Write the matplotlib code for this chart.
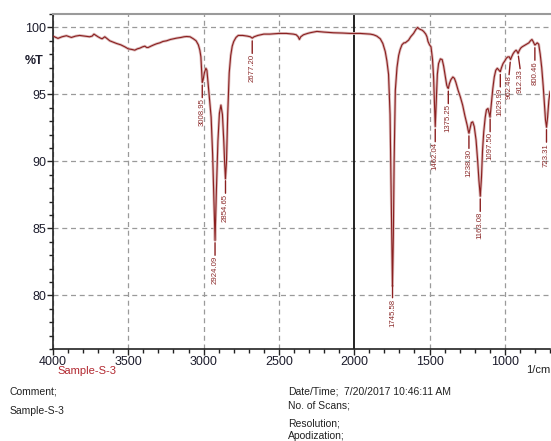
import matplotlib
matplotlib.use("Agg")
import matplotlib.pyplot as plt
import numpy as np
from matplotlib.ticker import MultipleLocator
from matplotlib import font_manager

plt.rcParams['font.family'] = ['Liberation Sans', 'DejaVu Sans']

# ---- spectrum data (wavenumber 1/cm, %T) ----
wavenumber = [4000, 3967, 3940, 3911, 3878, 3850, 3823, 3790, 3757, 3740, 3728, 3715, 3701, 3685,
              3674, 3656, 3640, 3623, 3600, 3578, 3550, 3523, 3500, 3475, 3457, 3440, 3424, 3405,
              3390, 3378, 3368, 3350, 3330, 3312, 3290, 3270, 3246, 3220, 3200, 3179, 3150, 3130,
              3113, 3090, 3068, 3050, 3035, 3025, 3018, 3013, 3009, 3003, 2995, 2985, 2978, 2970,
              2960, 2950, 2940, 2932, 2924, 2916, 2905, 2895, 2885, 2875, 2866, 2860, 2855, 2848,
              2840, 2830, 2820, 2810, 2800, 2785, 2770, 2740, 2710, 2690, 2677, 2665, 2640, 2600,
              2560, 2500, 2450, 2404, 2385, 2372, 2364, 2355, 2337, 2310, 2293, 2270, 2248, 2200,
              2138, 2080, 2027, 1960, 1894, 1872, 1850, 1827, 1810, 1794, 1783, 1772, 1762, 1755,
              1750, 1746, 1740, 1735, 1727, 1716, 1705, 1695, 1683, 1670, 1661, 1650, 1639, 1625,
              1606, 1590, 1579, 1570, 1561, 1550, 1539, 1525, 1517, 1510, 1500, 1490, 1480, 1473,
              1467, 1462, 1456, 1448, 1440, 1428, 1416, 1406, 1396, 1386, 1380, 1375, 1368, 1358,
              1345, 1335, 1325, 1310, 1295, 1280, 1265, 1250, 1243, 1238, 1232, 1222, 1213, 1203,
              1191, 1180, 1172, 1163, 1155, 1148, 1140, 1130, 1122, 1112, 1104, 1098, 1090, 1080,
              1070, 1060, 1050, 1042, 1035, 1030, 1022, 1012, 1000, 990, 980, 970, 962, 955,
              945, 935, 925, 918, 912, 905, 895, 885, 870, 855, 840, 830, 820, 812,
              806, 800, 794, 785, 775, 765, 755, 745, 737, 730, 723, 716, 708, 700]
transmittance = [99.35, 99.18, 99.3, 99.38, 99.25, 99.35, 99.4, 99.35, 99.3, 99.35, 99.5, 99.4, 99.3, 99.2,
                 99.15, 99.3, 99.15, 99.0, 98.9, 98.8, 98.7, 98.55, 98.4, 98.35, 98.3, 98.4, 98.45, 98.55,
                 98.6, 98.5, 98.5, 98.6, 98.7, 98.78, 98.85, 98.95, 99.0, 99.1, 99.15, 99.2, 99.25, 99.3,
                 99.32, 99.3, 99.15, 99.0, 98.7, 98.3, 97.8, 96.8, 95.9, 96.1, 96.6, 96.95, 96.8, 95.8,
                 94.6, 93.3, 90.5, 87.2, 84.1, 87.5, 91.5, 93.6, 94.2, 93.5, 91.5, 89.8, 88.7, 90.0,
                 93.5, 96.6, 97.9, 98.6, 98.95, 99.25, 99.4, 99.4, 99.35, 99.3, 99.2, 99.3, 99.4, 99.5,
                 99.5, 99.55, 99.55, 99.5, 99.45, 99.3, 99.1, 99.3, 99.45, 99.55, 99.6, 99.65, 99.7, 99.65,
                 99.6, 99.58, 99.55, 99.55, 99.5, 99.45, 99.35, 99.15, 98.8, 98.2, 97.5, 96.5, 93.5, 88.0,
                 83.5, 80.7, 84.5, 90.0, 95.3, 97.0, 97.9, 98.35, 98.7, 98.85, 98.85, 98.95, 99.05, 99.3,
                 99.55, 99.85, 100.0, 99.9, 99.85, 99.8, 99.7, 99.5, 99.3, 98.95, 98.7, 98.55, 97.6, 96.3,
                 94.2, 92.6, 94.3, 96.5, 97.3, 97.65, 97.6, 97.1, 96.4, 95.7, 95.5, 95.45, 95.8, 96.1,
                 96.3, 96.2, 95.9, 95.3, 94.8, 94.2, 93.4, 92.7, 92.3, 92.1, 92.4, 92.9, 92.95, 92.6,
                 91.6, 90.0, 88.6, 87.4, 88.8, 90.8, 92.2, 93.3, 93.85, 93.95, 93.6, 93.3, 94.2, 95.4,
                 96.3, 96.8, 96.95, 96.85, 96.75, 96.7, 97.0, 97.3, 97.5, 97.7, 97.8, 97.8, 97.6, 97.8,
                 98.04, 98.2, 98.3, 98.2, 98.05, 98.25, 98.45, 98.55, 98.65, 98.75, 98.85, 99.0, 99.1, 98.95,
                 98.8, 98.68, 98.75, 98.85, 98.75, 98.0, 97.0, 95.6, 94.2, 93.1, 92.55, 93.3, 94.5, 95.2]

peak_labels = ["3008.95", "2924.09", "2854.65", "2677.20", "1745.58", "1462.04", "1375.25",
               "1238.30", "1163.08", "1097.50", "1029.99", "962.48", "912.33", "800.46", "723.31"]

x_ticks = [4000, 3500, 3000, 2500, 2000, 1500, 1000]
y_ticks = [80, 85, 90, 95, 100]

W, H = 551, 441
fig = plt.figure(figsize=(W / 100, H / 100), dpi=100)
ax = fig.add_axes([53 / W, 1 - 349 / H, (550 - 53) / W, (349 - 14) / H])

wn = np.array(wavenumber, dtype=float)
tr = np.array(transmittance, dtype=float)

# grid
for xv in x_ticks:
    if xv == 2000:
        continue
    ax.axvline(xv, color='#9a9a9a', lw=0.9, ls=(0, (4, 3)), zorder=1)
for yv in y_ticks:
    ax.axhline(yv, color='#9a9a9a', lw=0.9, ls=(0, (4, 3)), zorder=1)
ax.axvline(2000, color='#111111', lw=1.3, zorder=1)

# spectrum (halo + core)
ax.plot(wn, tr, color='#dcbaba', lw=2.0, zorder=2, solid_joinstyle='round')
ax.plot(wn, tr, color='#8b2020', lw=0.8, zorder=3, solid_joinstyle='round')

# label font (narrow if available)
names = {f.name for f in font_manager.fontManager.ttflist}
label_family = ['Liberation Sans Narrow'] if 'Liberation Sans Narrow' in names else ['Liberation Sans']

# small horizontal nudges (points) for crowded labels
nudge = {"962.48": -1.0, "912.33": 1.5}

# peak labels
order = np.argsort(wn)
for lab in peak_labels:
    p = float(lab)
    tv = np.interp(p, wn[order], tr[order])
    dx = nudge.get(lab, 0.0)
    ax.annotate('', xy=(p, tv), xytext=(dx, -11), textcoords='offset points',
                arrowprops=dict(arrowstyle='-', color='#8b2020', lw=1.0,
                                shrinkA=0, shrinkB=2), zorder=4)
    ax.annotate(lab, xy=(p, tv), xytext=(dx, -11.5), textcoords='offset points',
                rotation=90, ha='center', va='top', fontsize=5.6, color='#8b2a2a',
                family=label_family, zorder=4)

ax.set_xlim(4000, 700)
ax.set_ylim(76, 101)
ax.set_xticks(x_ticks)
ax.set_yticks(y_ticks)
ax.xaxis.set_minor_locator(MultipleLocator(100))
ax.yaxis.set_minor_locator(MultipleLocator(1))
ax.tick_params(axis='both', which='major', direction='out', length=4, width=1,
               color='#222222', labelsize=9, labelcolor='#1c1c2c', pad=1)
ax.tick_params(axis='both', which='minor', direction='out', length=3, width=1, color='#222222')

for s in ['left', 'bottom']:
    ax.spines[s].set_color('#222222')
    ax.spines[s].set_linewidth(1.2)
ax.spines['top'].set_color('#9a9a9a')
ax.spines['top'].set_linewidth(1.5)
ax.spines['right'].set_visible(False)

# texts
fig.text(25 / W, 1 - 61 / H, '%T', fontsize=9, color='#1c1c2c', va='center', ha='left',
         fontweight='bold')
fig.text(57 / W, 1 - 371 / H, 'Sample-S-3', fontsize=8, color='#b22830', va='center', ha='left')
fig.text(550 / W, 1 - 370 / H, '1/cm', fontsize=8, color='#222222', va='center', ha='right')
fig.text(10 / W, 1 - 392 / H, 'Comment;', fontsize=7.5, color='#222222', va='center')
fig.text(10 / W, 1 - 411 / H, 'Sample-S-3', fontsize=7.5, color='#222222', va='center')
fig.text(288 / W, 1 - 392 / H, 'Date/Time;', fontsize=7.5, color='#222222', va='center')
fig.text(344 / W, 1 - 392 / H, '7/20/2017 10:46:11 AM', fontsize=7.5, color='#222222', va='center')
fig.text(288 / W, 1 - 405 / H, 'No. of Scans;', fontsize=7.5, color='#222222', va='center')
fig.text(288 / W, 1 - 424 / H, 'Resolution;', fontsize=7.5, color='#222222', va='center')
fig.text(288 / W, 1 - 436 / H, 'Apodization;', fontsize=7.5, color='#222222', va='center')

fig.savefig('out.png', dpi=100)
